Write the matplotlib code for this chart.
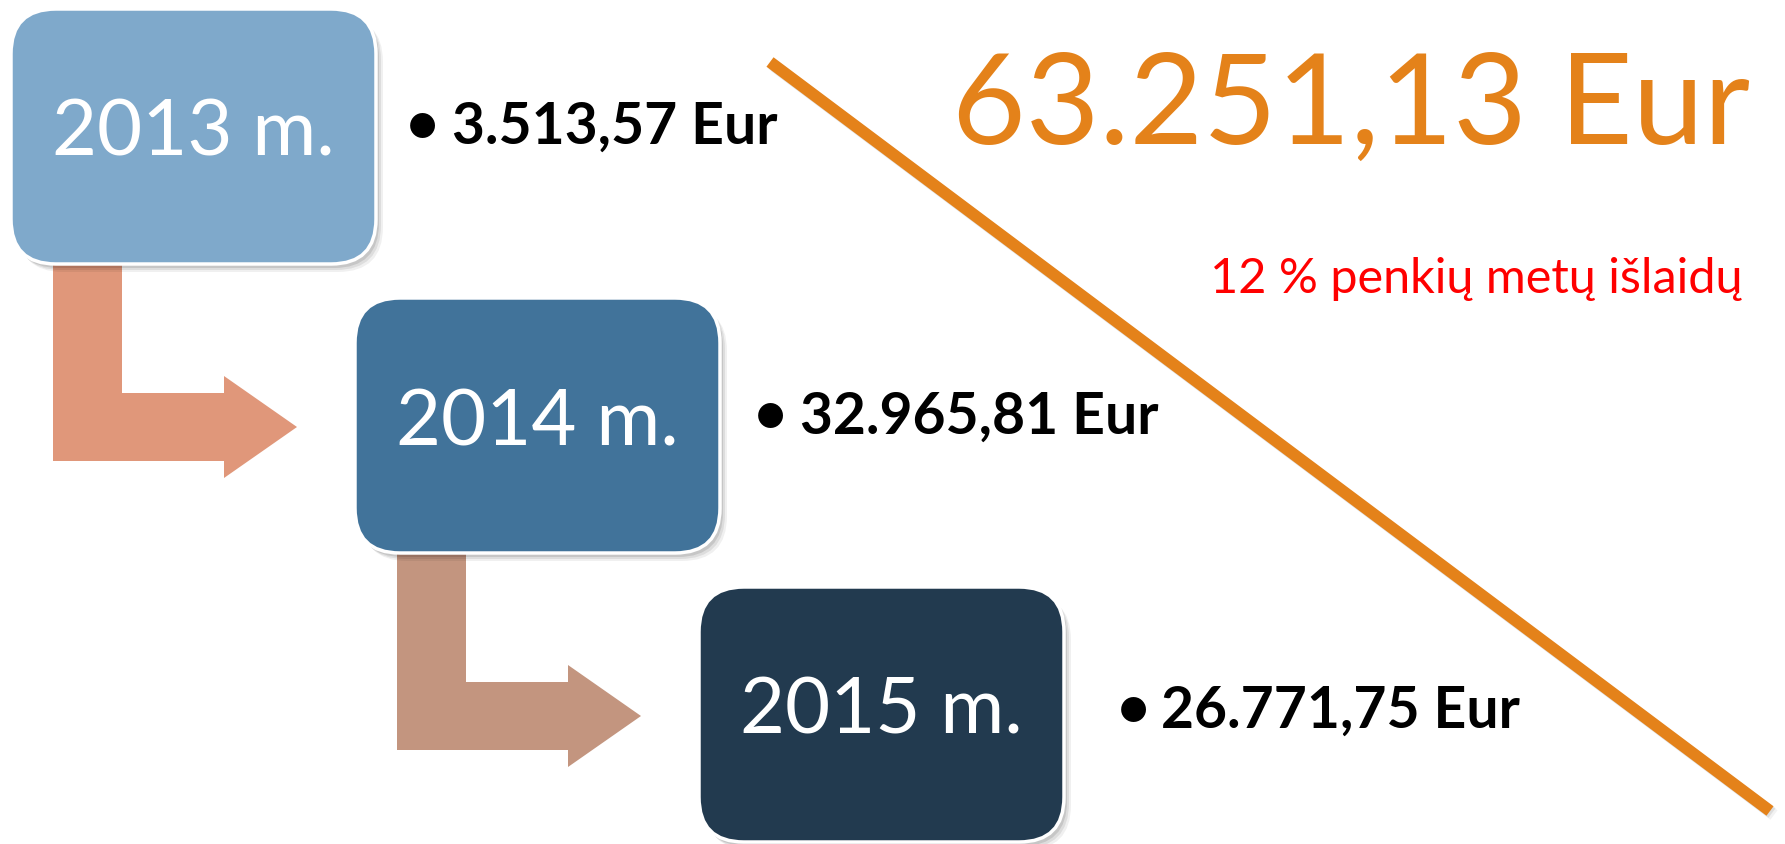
import matplotlib
matplotlib.use("Agg")
import matplotlib.pyplot as plt
import matplotlib.transforms as mtransforms
from matplotlib.patches import FancyBboxPatch, Polygon
from matplotlib.lines import Line2D

# ---- data ----
years = ["2013 m.", "2014 m.", "2015 m."]
amounts = ["3.513,57 Eur", "32.965,81 Eur", "26.771,75 Eur"]
total_label = "63.251,13 Eur"
note_label = "12 % penkių metų išlaidų"

# ---- style ----
box_colors = ["#7FA9CB", "#41739A", "#223A4F"]
arrow_colors = ["#E0977A", "#C3957F"]
orange = "#E4821A"
FONT = ["Lato", "DejaVu Sans"]

W, H = 1785, 844
fig = plt.figure(figsize=(W / 100, H / 100), dpi=100)
ax = fig.add_axes([0, 0, 1, 1])
ax.set_xlim(0, W)
ax.set_ylim(H, 0)
ax.axis("off")

box_w, box_h = 365, 255
x0, y0 = 11, 9
dx, dy = 344, 289

# arrows
for i, col in enumerate(arrow_colors):
    ox, oy = i * dx, i * dy
    pts = [(53, 250), (122, 250), (122, 393), (224, 393), (224, 376),
           (297, 427), (224, 478), (224, 461), (53, 461)]
    ax.add_patch(Polygon([(px + ox, py + oy) for px, py in pts], closed=True,
                         facecolor=col, edgecolor="none", zorder=1))

# orange line with soft shadow
for k, a in enumerate([0.18, 0.10]):
    off = mtransforms.ScaledTranslation((2 + 2 * k) / 100, -(2 + 2 * k) / 100, fig.dpi_scale_trans)
    ax.add_line(Line2D([770, 1770], [62, 811], color="#808080", lw=8.5, alpha=a,
                       solid_capstyle="butt", zorder=2, transform=ax.transData + off))
ax.add_line(Line2D([770, 1770], [62, 811], color=orange, lw=8.5,
                   solid_capstyle="butt", zorder=3))

# boxes
for i, (lab, col) in enumerate(zip(years, box_colors)):
    bx, by = x0 + i * dx, y0 + i * dy
    for k, a in enumerate([0.10, 0.08, 0.06]):
        ax.add_patch(FancyBboxPatch((bx + 3 + k * 2, by + 4 + k * 2), box_w, box_h,
                                    boxstyle="round,pad=0,rounding_size=45",
                                    facecolor="#000000", edgecolor="none",
                                    alpha=a, zorder=4))
    ax.add_patch(FancyBboxPatch((bx, by), box_w, box_h,
                                boxstyle="round,pad=0,rounding_size=45",
                                facecolor=col, edgecolor="white", lw=2.5, zorder=5))
    ax.text(bx + box_w / 2, by + box_h / 2 - 2, lab, color="white", fontsize=56,
            ha="center", va="center", family=FONT, zorder=6)

# amounts
bullet_x = [406, 754, 1117]
text_x = [452, 800, 1161]
text_y = [127, 417, 711]
for bxp, txp, ty, amt in zip(bullet_x, text_x, text_y, amounts):
    ax.text(bxp, ty, "•", fontsize=41, fontweight="bold", ha="left", va="center",
            family=FONT, color="black", zorder=6)
    ax.text(txp, ty, amt, fontsize=41, fontweight="bold", ha="left", va="center",
            family=FONT, color="black", zorder=6)

# total
ax.text(1750, 108, total_label, fontsize=91.5, color=orange, ha="right", va="center",
        family=FONT, zorder=6)
ax.text(1742, 279, note_label, fontsize=35, color="#FF0000", ha="right", va="center",
        family=FONT, zorder=6)

fig.savefig("out.png", dpi=100, facecolor="white")
